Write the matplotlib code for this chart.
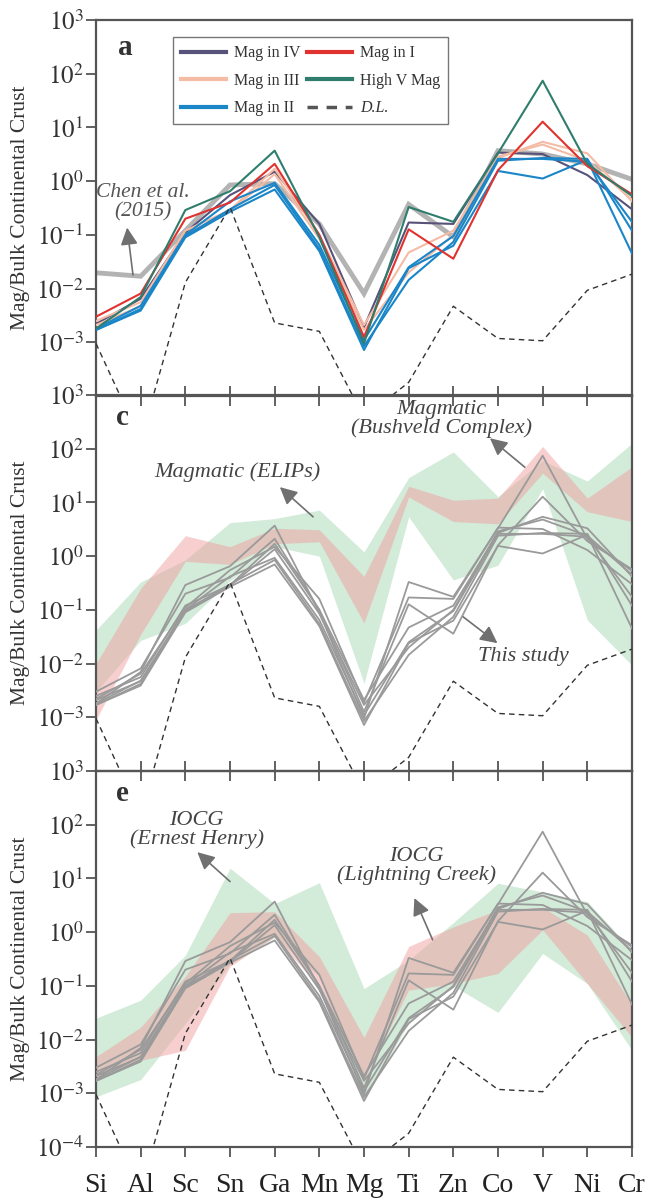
import numpy as np
import matplotlib
matplotlib.use("Agg")
import matplotlib.pyplot as plt
from matplotlib.lines import Line2D
from matplotlib.ticker import FixedLocator, FixedFormatter, NullLocator

plt.rcParams['font.family'] = 'serif'
plt.rcParams['font.serif'] = ['Liberation Serif', 'DejaVu Serif']
plt.rcParams['mathtext.fontset'] = 'stix'

# ---------- DATA (magnetite / bulk continental crust) ----------
elements = ['Si', 'Al', 'Sc', 'Sn', 'Ga', 'Mn', 'Mg', 'Ti', 'Zn', 'Co', 'V', 'Ni', 'Cr']

mag_iv = [0.0022, 0.0065, 0.11, 0.55, 1.5, 0.16, 0.0019, 0.17, 0.16, 3.4, 3.2, 1.3, 0.30]
mag_i = [0.0030, 0.0081, 0.20, 0.40, 2.1, 0.10, 0.00126, 0.127, 0.036, 1.6, 12.8, 1.9, 0.57]
mag_iii_a = [0.0025, 0.0056, 0.12, 0.29, 1.7, 0.10, 0.0021, 0.047, 0.12, 2.7, 5.4, 3.3, 0.42]
mag_iii_b = [0.0021, 0.0047, 0.10, 0.28, 1.35, 0.085, 0.0017, 0.020, 0.10, 2.9, 4.8, 2.4, 0.45]
high_v = [0.0018, 0.0070, 0.29, 0.65, 3.7, 0.09, 0.00096, 0.33, 0.175, 3.3, 74, 2.1, 0.53]
mag_ii_a = [0.0017, 0.0039, 0.09, 0.27, 0.70, 0.05, 0.00072, 0.024, 0.063, 1.55, 1.12, 2.5, 0.045]
mag_ii_b = [0.0018, 0.0048, 0.10, 0.42, 0.93, 0.065, 0.0011, 0.025, 0.095, 2.6, 2.6, 2.3, 0.175]
mag_ii_c = [0.0017, 0.0042, 0.095, 0.30, 0.85, 0.055, 0.00085, 0.0145, 0.074, 2.4, 2.7, 2.6, 0.12]

# detection limit
dl = [0.00095, 1.5e-5, 0.013, 0.33, 0.0023, 0.0016, 4e-5, 1.8e-4, 0.0047, 0.00118, 0.00107, 0.0093, 0.0186]

# Chen et al. (2015)
chen = [0.0197, 0.017, 0.12, 0.85, 0.9, 0.16, 0.0081, 0.37, 0.092, 3.7, 3.2, 2.1, 1.08]

# Magmatic ELIPs / Bushveld ranges
elips_hi = [0.042, 0.33, 0.85, 4.2, 5.0, 7.2, 1.2, 29, 87, 12.8, 60, 25, 126]
elips_lo = [0.003, 0.027, 0.056, 0.35, 1.5, 1.0, 0.0043, 5.4, 0.36, 0.68, 18, 0.065, 0.0093]
bush_hi = [0.010, 0.25, 2.4, 1.5, 3.3, 3.1, 0.42, 20, 11, 12, 110, 12, 46]
bush_lo = [0.0009, 0.035, 0.8, 0.7, 1.7, 1.85, 0.057, 12.6, 4.4, 4.0, 35, 6.7, 4.4]

# IOCG ranges
eh_hi = [0.025, 0.054, 0.37, 15.5, 3.4, 8.3, 0.089, 0.3, 1.5, 8.1, 5.6, 3.7, 0.47]
eh_lo = [0.00086, 0.0018, 0.02, 0.25, 0.8, 0.15, 0.00074, 0.02, 0.1, 0.032, 0.4, 0.11, 0.0063]
lc_hi = [0.0048, 0.017, 0.15, 2.3, 2.4, 0.35, 0.011, 0.54, 1.25, 2.6, 2.9, 0.88, 0.044]
lc_lo = [0.002, 0.0041, 0.0063, 0.23, 0.82, 0.095, 0.0018, 0.083, 0.11, 0.17, 1.1, 0.11, 0.011]

groups = [
    ('Mag in IV', '#57527a', [mag_iv]),
    ('Mag in III', '#f4bba5', [mag_iii_a, mag_iii_b]),
    ('Mag in II', '#1a86c8', [mag_ii_a, mag_ii_b, mag_ii_c]),
    ('Mag in I', '#e0332f', [mag_i]),
    ('High V Mag', '#2f7d6d', [high_v]),
]

x = np.arange(len(elements))
spine_col = '#555555'
arrow_col = '#707070'
note_size = 16


def arrow(ax, head, tail):
    ax.annotate('', xy=head, xytext=tail, xycoords='axes fraction',
                arrowprops=dict(arrowstyle='-|>', color=arrow_col, lw=1.2,
                                mutation_scale=26, shrinkA=0, shrinkB=0))


fig = plt.figure(figsize=(6.47, 11.98), dpi=100)
left, width, height = 0.1484, 0.8284, 0.3139
bottoms = [0.6694, 0.3564, 0.04257]
axes = [fig.add_axes([left, b, width, height]) for b in bottoms]

for i, ax in enumerate(axes):
    ax.set_facecolor('none')
    ax.set_yscale('log')
    ax.set_xlim(0, len(elements) - 1)
    ax.set_ylim(1e-4, 1e3)
    exps = [3, 2, 1, 0, -1, -2, -3] + ([-4] if i == 2 else [])
    ax.yaxis.set_major_locator(FixedLocator([10.0 ** e for e in exps]))
    ax.yaxis.set_major_formatter(FixedFormatter(['$10^{%d}$' % e for e in exps]))
    ax.yaxis.set_minor_locator(NullLocator())
    ax.set_xticks(x)
    if i == 2:
        ax.set_xticklabels(elements, fontsize=20, color='#222222')
        ax.tick_params(axis='x', direction='out', length=7, width=1.3, color=spine_col, pad=12)
    else:
        ax.set_xticklabels([])
        ax.tick_params(axis='x', direction='inout', length=14, width=1.3, color=spine_col)
    ax.tick_params(axis='y', direction='out', length=7, width=1.3, color=spine_col,
                   labelsize=18, labelcolor='#333333', pad=2)
    for s in ax.spines.values():
        s.set_color(spine_col)
        s.set_linewidth(1.6)
    ax.set_ylabel('Mag/Bulk Continental Crust', fontsize=15.5, color='#333333')
    ax.yaxis.set_label_coords(-0.124, 0.5)
    # detection limit
    ax.plot(x, dl, ls=(0, (4, 3)), color='#333333', lw=1.0, zorder=4)

# ---- panel a: coloured series ----
ax = axes[0]
ax.plot(x, chen, color='#b3b3b3', lw=3.5, zorder=2, solid_joinstyle='miter')
for name, col, series in groups:
    for s in series:
        ax.plot(x, s, color=col, lw=1.5, zorder=3)

handles = [Line2D([], [], color=c, lw=3) for _, c, _ in groups]
labels = [n for n, _, _ in groups]
handles.append(Line2D([], [], color='#555555', lw=2.5, ls=(0, (3, 2.5))))
labels.append('D.L.')
leg = ax.legend(handles, labels, ncol=2, loc='upper left', bbox_to_anchor=(0.144, 0.954),
                borderaxespad=0, fontsize=11.5, handlelength=2.8, handletextpad=0.5,
                columnspacing=0.45, labelspacing=0.72, borderpad=0.5,
                fancybox=False, edgecolor='#777777', framealpha=1)
leg.get_frame().set_linewidth(1.0)
for t in leg.get_texts():
    t.set_color('#333333')
leg.get_texts()[-1].set_fontstyle('italic')

ax.text(0.054, 0.928, 'a', transform=ax.transAxes, fontsize=21, fontweight='bold',
        color='#333333', ha='center', va='center')
ax.text(0.088, 0.515, 'Chen et al.\n(2015)', transform=ax.transAxes, fontsize=15.5,
        style='italic', color='#555555', ha='center', va='center', linespacing=1.0)
arrow(ax, (0.058, 0.448), (0.069, 0.322))

# ---- panel c: magmatic fields ----
ax = axes[1]
ax.fill_between(x, elips_lo, elips_hi, color='#a8d8b4', alpha=0.5, lw=0, zorder=1)
ax.fill_between(x, bush_lo, bush_hi, color='#f0a0a0', alpha=0.5, lw=0, zorder=1.5)
for _, _, series in groups:
    for s in series:
        ax.plot(x, s, color='#9a9a9a', lw=1.3, zorder=3)
ax.text(0.05, 0.939, 'c', transform=ax.transAxes, fontsize=21, fontweight='bold',
        color='#333333', ha='center', va='center')
ax.text(0.263, 0.795, 'Magmatic (ELIPs)', transform=ax.transAxes, fontsize=note_size,
        style='italic', color='#444444', ha='center', va='center')
arrow(ax, (0.343, 0.755), (0.405, 0.676))
ax.text(0.645, 0.936, 'Magmatic\n(Bushveld Complex)', transform=ax.transAxes, fontsize=note_size,
        style='italic', color='#444444', ha='center', va='center', linespacing=0.95)
arrow(ax, (0.735, 0.885), (0.800, 0.808))
ax.text(0.797, 0.304, 'This study', transform=ax.transAxes, fontsize=note_size,
        style='italic', color='#444444', ha='center', va='center')
arrow(ax, (0.749, 0.340), (0.685, 0.410))

# ---- panel e: IOCG fields ----
ax = axes[2]
ax.fill_between(x, eh_lo, eh_hi, color='#a8d8b4', alpha=0.5, lw=0, zorder=1)
ax.fill_between(x, lc_lo, lc_hi, color='#f0a0a0', alpha=0.5, lw=0, zorder=1.5)
for _, _, series in groups:
    for s in series:
        ax.plot(x, s, color='#9a9a9a', lw=1.3, zorder=3)
ax.text(0.05, 0.941, 'e', transform=ax.transAxes, fontsize=21, fontweight='bold',
        color='#333333', ha='center', va='center')
ax.text(0.188, 0.844, 'IOCG\n(Ernest Henry)', transform=ax.transAxes, fontsize=note_size,
        style='italic', color='#444444', ha='center', va='center', linespacing=0.95)
arrow(ax, (0.189, 0.784), (0.25, 0.706))
ax.text(0.598, 0.748, 'IOCG\n(Lightning Creek)', transform=ax.transAxes, fontsize=note_size,
        style='italic', color='#444444', ha='center', va='center', linespacing=0.95)
arrow(ax, (0.594, 0.662), (0.628, 0.551))

fig.savefig('out.png', dpi=100)
